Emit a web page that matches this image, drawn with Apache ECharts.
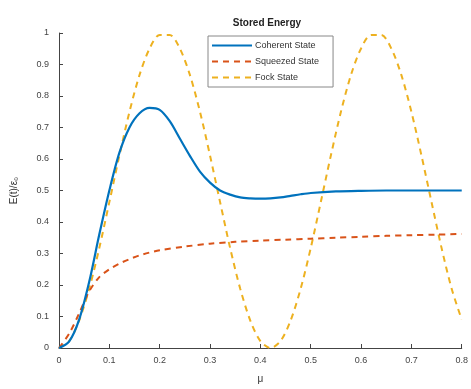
<!DOCTYPE html>
<html><head><meta charset="utf-8">
<script src="https://cdn.jsdelivr.net/npm/echarts@6/dist/echarts.min.js"></script>
<style>html,body{margin:0;padding:0;background:#fff}#c{width:471px;height:389px}</style>
</head><body><div id="c"></div>
<script>
var fockMu = [0,0.02,0.04,0.06,0.08,0.10,0.12,0.14,0.16,0.18,0.20,0.22,0.24,0.26,0.28,0.30,0.32,0.34,0.36,0.38,0.40,0.42,0.44,0.46,0.48,0.50,0.52,0.54,0.56,0.58,0.60,0.62,0.64,0.66,0.68,0.70,0.72,0.74,0.76,0.78,0.80];
var fock = [0,0.022,0.087,0.188,0.317,0.463,0.611,0.75,0.867,0.951,0.994,0.994,0.951,0.867,0.75,0.611,0.463,0.317,0.188,0.087,0.022,0,0.022,0.087,0.188,0.317,0.463,0.611,0.75,0.867,0.951,0.994,0.994,0.951,0.867,0.75,0.611,0.463,0.317,0.188,0.09];
var coherentMu = [0,0.02,0.04,0.06,0.08,0.10,0.12,0.14,0.16,0.18,0.20,0.22,0.24,0.26,0.28,0.30,0.32,0.34,0.36,0.38,0.40,0.42,0.44,0.46,0.48,0.50,0.55,0.60,0.65,0.70,0.75,0.80];
var coherent = [0,0.02,0.09,0.21,0.36,0.50,0.62,0.70,0.745,0.762,0.756,0.72,0.665,0.61,0.56,0.525,0.50,0.487,0.478,0.475,0.474,0.475,0.478,0.483,0.488,0.492,0.497,0.499,0.5,0.5,0.5,0.5];
var squeezedMu = [0,0.02,0.04,0.06,0.08,0.10,0.12,0.14,0.16,0.18,0.20,0.25,0.30,0.35,0.40,0.45,0.50,0.55,0.60,0.65,0.70,0.75,0.80];
var squeezed = [0,0.045,0.11,0.18,0.225,0.25,0.268,0.282,0.294,0.303,0.31,0.322,0.331,0.337,0.341,0.344,0.347,0.35,0.353,0.356,0.358,0.36,0.362];
var seriesNames = ['Coherent State','Squeezed State','Fock State'];

function pairs(xs, ys){ return xs.map(function(x,i){return [x, ys[i]];}); }
var chart = echarts.init(document.getElementById('c'), null, {renderer:'canvas'});
var axisCol = '#444';
chart.setOption({
  animation:false,
  backgroundColor:'#fff',
  title:{text:'Stored Energy', left:262, top:13, textAlign:'center',
    textStyle:{fontSize:10, fontWeight:'bold', color:'#222', fontFamily:'Liberation Sans'}},
  legend:{orient:'vertical', left:208, top:36, data:seriesNames,
    backgroundColor:'#fff', borderColor:'#888', borderWidth:1, borderRadius:0,
    padding:[5,14,5,3], itemGap:7, itemWidth:40, itemHeight:8,
    itemStyle:{opacity:0},
    textStyle:{fontSize:9, color:'#333', fontFamily:'Liberation Sans', padding:[0,0,0,-2]}},
  grid:{left:59, right:6, top:33, bottom:35},
  xAxis:{type:'value', min:0, max:0.8, interval:0.1, name:'μ', nameLocation:'middle', nameGap:26,
    nameTextStyle:{fontSize:10, color:'#333', fontFamily:'Liberation Sans'},
    axisLine:{lineStyle:{color:axisCol, width:1}}, axisTick:{inside:true, length:4, lineStyle:{color:axisCol}},
    axisLabel:{fontSize:9, color:'#444', margin:8, fontFamily:'Liberation Sans'}, splitLine:{show:false}},
  yAxis:{type:'value', min:0, max:1, interval:0.1, name:'E(t)/ε₀', nameLocation:'middle', nameGap:40,
    nameTextStyle:{fontSize:10, color:'#333', fontFamily:'Liberation Sans'},
    axisLine:{show:true, lineStyle:{color:axisCol, width:1}}, axisTick:{show:true, inside:true, length:4, lineStyle:{color:axisCol}},
    axisLabel:{fontSize:9, color:'#444', margin:10, fontFamily:'Liberation Sans'}, splitLine:{show:false}},
  series:[
    {name:seriesNames[0], type:'line', data:pairs(coherentMu, coherent), smooth:0.3, symbol:'none',
      lineStyle:{color:'#0072BD', width:2.2}, itemStyle:{color:'#0072BD'}, z:3},
    {name:seriesNames[1], type:'line', data:pairs(squeezedMu, squeezed), smooth:0.3, symbol:'none',
      lineStyle:{color:'#D95319', width:2, type:[6,5]}, itemStyle:{color:'#D95319'}, z:2},
    {name:seriesNames[2], type:'line', data:pairs(fockMu, fock), smooth:0.3, symbol:'none',
      lineStyle:{color:'#EDB120', width:2, type:[6,5]}, itemStyle:{color:'#EDB120'}, z:1}
  ]
});
</script></body></html>
